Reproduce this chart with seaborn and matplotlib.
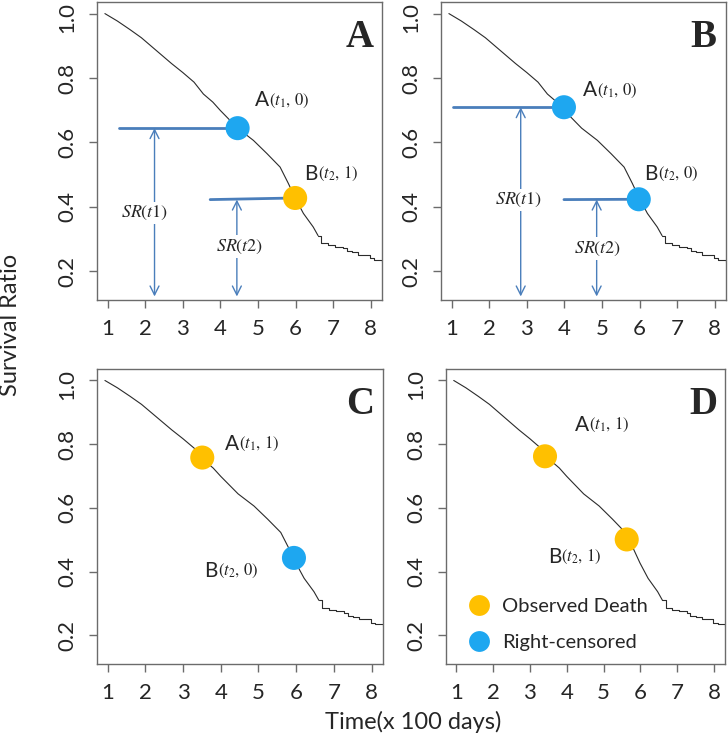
import matplotlib
matplotlib.use("Agg")
import matplotlib.pyplot as plt
from matplotlib.lines import Line2D
from matplotlib.transforms import ScaledTranslation
import pandas as pd
import seaborn as sns

# Kaplan-Meier curve (same in every panel)
curve_time = [0.93, 1.26, 1.6, 1.9, 2.4, 2.7, 3.0, 3.3, 3.55, 3.8, 4.0, 4.46,
              4.88, 5.24, 5.59, 5.81, 5.99, 6.21, 6.47, 6.6]
curve_surv = [1.0, 0.977, 0.95, 0.925, 0.875, 0.845, 0.817, 0.787, 0.75, 0.725,
              0.699, 0.644, 0.606, 0.565, 0.523, 0.472, 0.427, 0.379, 0.337, 0.31]
tail_time = [6.6, 6.69, 6.87, 7.05, 7.27, 7.36, 7.5, 7.67, 7.98, 8.1, 8.3]
tail_surv = [0.31, 0.286, 0.281, 0.276, 0.271, 0.262, 0.258, 0.25, 0.240, 0.235, 0.229]

panels = ["A", "B", "C", "D"]
point_time = [[4.46, 5.99], [3.99, 5.98], [3.51, 5.94], [3.41, 5.63]]
point_surv = [[0.644, 0.427], [0.709, 0.423], [0.758, 0.443], [0.762, 0.501]]
point_status = [[0, 1], [0, 0], [1, 0], [1, 1]]  # 1 = observed death, 0 = censored
point_names = ["A", "B"]

# SR(t) guides, only in panels A and B
guide_start = [[1.30, 3.73], [1.05, 3.99]]
guide_level = [[0.644, 0.422], [0.709, 0.422]]
arrow_x = [[2.25, 4.44], [2.84, 4.86]]
arrow_bottom = 0.121
sr_labels = ["SR(t1)", "SR(t2)"]

x_ticks = [1, 2, 3, 4, 5, 6, 7, 8]
y_ticks = [0.2, 0.4, 0.6, 0.8, 1.0]

# layout (not data)
axes_rect = [
    [97 / 728, 1 - 300 / 736, 285 / 728, 298 / 736],
    [441 / 728, 1 - 300 / 736, 285 / 728, 298 / 736],
    [97 / 728, 1 - 664 / 736, 286 / 728, 295 / 736],
    [446 / 728, 1 - 664 / 736, 279 / 728, 295 / 736],
]
label_pos = [
    [(4.93, 0.73), (6.23, 0.503)],
    [(4.49, 0.761), (6.13, 0.503)],
    [(4.10, 0.80), (3.57, 0.403)],
    [(4.21, 0.861), (3.49, 0.447)],
]
sr_label_pos = [[(1.98, 0.38), (4.51, 0.276)], [(2.79, 0.42), (4.88, 0.27)]]

DEATH = "#FFC000"
CENSOR = "#1EA7F0"
GUIDE = "#4A7EBB"
SPINE = "#6b6b6b"

sns.set_style("ticks")
plt.rcParams["font.family"] = ["Lato", "DejaVu Sans"]
plt.rcParams["mathtext.fontset"] = "stix"

fig = plt.figure(figsize=(7.28, 7.36), dpi=100)
nudge_down = ScaledTranslation(0, -0.04, fig.dpi_scale_trans)

for i, name in enumerate(panels):
    ax = fig.add_axes(axes_rect[i])
    sns.lineplot(x=curve_time, y=curve_surv, ax=ax, color="#2b2b2b", linewidth=0.8,
                 estimator=None, sort=False)
    sns.lineplot(x=tail_time, y=tail_surv, ax=ax, color="#2b2b2b", linewidth=0.8,
                 estimator=None, sort=False, drawstyle="steps-post")

    if i < 2:
        for k in range(2):
            ax.plot([guide_start[i][k], point_time[i][k]],
                    [guide_level[i][k], point_surv[i][k]],
                    color=GUIDE, linewidth=2, zorder=3)
            ax.annotate("", xy=(arrow_x[i][k], arrow_bottom),
                        xytext=(arrow_x[i][k], guide_level[i][k]),
                        arrowprops=dict(arrowstyle="<->", color=GUIDE, lw=1,
                                        shrinkA=0, shrinkB=0, mutation_scale=16))
            lx, ly = sr_label_pos[i][k]
            ax.text(lx, ly, "$" + sr_labels[k] + "$", fontsize=13,
                    ha="center", va="center", zorder=5,
                    bbox=dict(facecolor="white", edgecolor="none", pad=1.5))

    df = pd.DataFrame({"time": point_time[i], "surv": point_surv[i],
                       "status": point_status[i]})
    sns.scatterplot(data=df, x="time", y="surv", hue="status",
                    palette={1: DEATH, 0: CENSOR}, s=300, edgecolor="none",
                    ax=ax, legend=False, zorder=6)

    for k in range(2):
        lx, ly = label_pos[i][k]
        t = ax.text(lx, ly, point_names[k], fontsize=15, ha="left", va="center")
        ax.annotate("$(t_{%d},\\, %d)$" % (k + 1, point_status[i][k]),
                    xy=(1.0, 0.5), xycoords=t, ha="left", va="center",
                    fontsize=12, color="#222222")

    ax.text(7.7, 0.925, name, fontsize=28, fontweight="bold",
            family="Liberation Serif", ha="center", va="center")

    ax.set_xlim(0.72, 8.3)
    ax.set_ylim(0.11, 1.036)
    ax.set_xticks(x_ticks)
    ax.set_yticks(y_ticks)
    ax.set_xticklabels([str(v) for v in x_ticks])
    ax.set_yticklabels(["%.1f" % v for v in y_ticks], rotation=90, va="center")
    ax.set_xlabel("")
    ax.set_ylabel("")
    ax.tick_params(axis="both", labelsize=16, length=6, width=1, color=SPINE,
                   pad=8)
    # the top label sits a little below its tick, as in the source figure
    top_label = ax.get_yticklabels()[-1]
    top_label.set_transform(top_label.get_transform() + nudge_down)
    for sp in ax.spines.values():
        sp.set_color(SPINE)
        sp.set_linewidth(1)

    if name == "D":
        handles = [Line2D([], [], marker="o", linestyle="none", markersize=15,
                          markerfacecolor=DEATH, markeredgecolor="none"),
                   Line2D([], [], marker="o", linestyle="none", markersize=15,
                          markerfacecolor=CENSOR, markeredgecolor="none")]
        ax.legend(handles, ["Observed Death", "Right-censored"], loc="lower left",
                  bbox_to_anchor=(0.082, 0.044), frameon=False, fontsize=14.5,
                  handlelength=1.0, handletextpad=0.65, borderpad=0,
                  borderaxespad=0, labelspacing=0.95)

fig.text(0.014, 1 - 325 / 736, "Survival Ratio", rotation=90, fontsize=17,
         ha="center", va="center")
fig.text(413 / 728, 1 - 722 / 736, "Time(x 100 days)", fontsize=17,
         ha="center", va="center")

fig.savefig("out.png", dpi=100)
